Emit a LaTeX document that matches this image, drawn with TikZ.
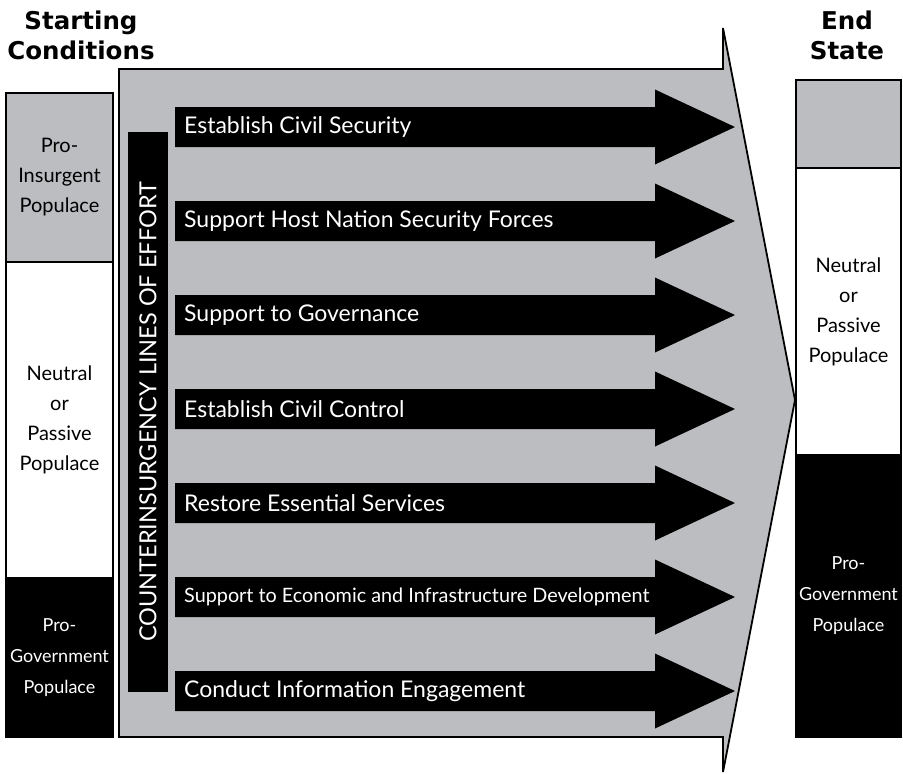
\documentclass[tikz,border=0pt]{standalone}
\usepackage{fontspec}
\setmainfont{Lato}
\newfontfamily\headfont{DejaVu Sans}
\usetikzlibrary{positioning}
\definecolor{loegray}{RGB}{188,189,192}

\tikzset{
  title/.style={align=center, inner sep=0pt, font=\headfont\fontsize{24.5}{30}\bfseries},
  popbox/.style={draw=black, line width=1.5pt, inner sep=0pt, align=center,
                 font=\fontsize{20}{30}\selectfont},
  lbl/.style={anchor=west, inner sep=0pt, text=white, font=\fontsize{23}{26}\selectfont},
  loearrow/.style={fill=black}
}

\begin{document}
\begin{tikzpicture}[x=1pt,y=-1pt]
    \useasboundingbox (0,0) rectangle (903,774);

    % titles
    \node[title] at (81,35) (start) {Starting\\Conditions};
    \node[title] at (847,35) (end) {End\\State};

    % starting conditions
    \node[popbox, fill=loegray, minimum width=107pt, minimum height=169pt] at (59.5,177.5) (sins) {Pro-\\Insurgent\\Populace};
    \node[popbox, fill=white, minimum width=107pt, minimum height=316pt] at (59.5,420) (sneu) {Neutral\\or\\Passive\\Populace};
    \node[popbox, fill=black, text=white, minimum width=107pt, minimum height=159pt, font=\fontsize{18}{31}\selectfont] at (59.5,657.5) (sgov) {Pro-\\Government\\Populace};

    % big arrow
    \draw[fill=loegray, line width=1.8pt, line join=miter]
        (119,69) -- (723,69) -- (723,28) -- (795,400) -- (723,772) -- (723,737) -- (119,737) -- cycle;

    % lines of effort bar
    \node[fill=black, minimum width=40pt, minimum height=560pt, inner sep=0pt] at (148,412) (bar) {};
    \node[rotate=90, text=white, inner sep=0pt, font=\fontsize{23.5}{26}\selectfont] at (bar.center) (barlbl) {COUNTERINSURGENCY LINES OF EFFORT};

    % lines of effort
    \foreach \ypos/\name/\txt in {127/loe1/Establish Civil Security,
                                  221/loe2/Support Host Nation Security Forces,
                                  315/loe3/Support to Governance,
                                  409/loe4/Establish Civil Control,
                                  503/loe5/Restore Essential Services,
                                  597/loe6/{\fontsize{19.8}{22}\selectfont Support to Economic and Infrastructure Development},
                                  691/loe7/Conduct Information Engagement}{
        \fill[loearrow] (175,\ypos-20) -- (655,\ypos-20) -- (655,\ypos-37.5) -- (735,\ypos)
            -- (655,\ypos+37.5) -- (655,\ypos+20) -- (175,\ypos+20) -- cycle;
        \node[lbl] at (184,\ypos) (\name) {\txt};
    }

    % end state
    \node[popbox, fill=loegray, minimum width=105pt, minimum height=88pt] at (848.5,124) (eins) {};
    \node[popbox, fill=white, minimum width=105pt, minimum height=287pt] at (848.5,311.5) (eneu) {Neutral\\or\\Passive\\Populace};
    \node[popbox, fill=black, text=white, minimum width=105pt, minimum height=282pt, font=\fontsize{18}{31}\selectfont] at (848.5,596) (egov) {Pro-\\Government\\Populace};
\end{tikzpicture}
\end{document}
